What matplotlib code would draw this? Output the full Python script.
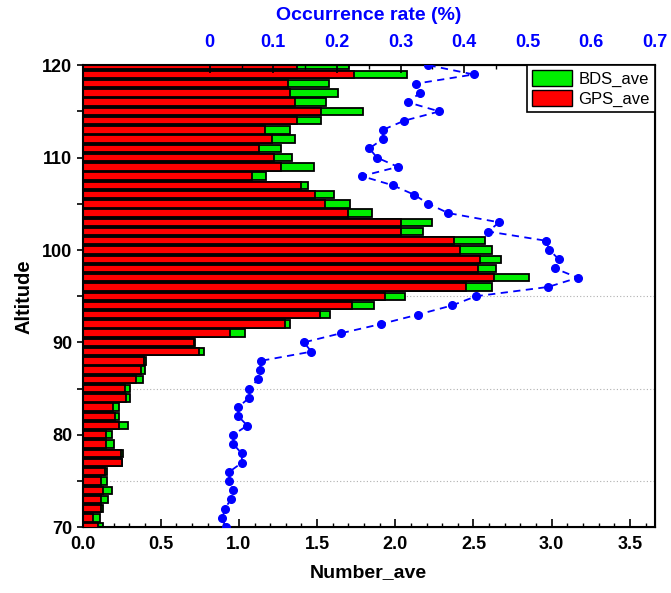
import matplotlib
matplotlib.use("Agg")
import matplotlib.pyplot as plt
import matplotlib.ticker as mticker
from matplotlib.patches import Patch

plt.rcParams["font.family"] = ["Liberation Sans", "DejaVu Sans"]
plt.rcParams["font.weight"] = "bold"

# --- Data, altitude 120 km down to 70 km ---
altitude = list(range(120, 69, -1))

gps_ave = [1.374, 1.734, 1.313, 1.324, 1.361, 1.527, 1.374, 1.164, 1.214, 1.128,
           1.224, 1.271, 1.086, 1.399, 1.489, 1.548, 1.697, 2.039, 2.039, 2.376,
           2.412, 2.540, 2.529, 2.632, 2.449, 1.932, 1.723, 1.516, 1.292, 0.945,
           0.710, 0.744, 0.392, 0.371, 0.339, 0.269, 0.280, 0.198, 0.209, 0.232,
           0.152, 0.152, 0.248, 0.254, 0.141, 0.120, 0.130, 0.120, 0.120, 0.066,
           0.098]

bds_ave = [1.702, 2.073, 1.574, 1.631, 1.555, 1.791, 1.527, 1.324, 1.361, 1.271,
           1.342, 1.480, 1.175, 1.441, 1.606, 1.708, 1.851, 2.235, 2.177, 2.572,
           2.619, 2.679, 2.647, 2.853, 2.621, 2.060, 1.862, 1.580, 1.324, 1.036,
           0.721, 0.776, 0.408, 0.397, 0.386, 0.301, 0.301, 0.232, 0.230, 0.290,
           0.187, 0.200, 0.258, 0.254, 0.155, 0.155, 0.187, 0.162, 0.130, 0.109,
           0.130]

occurrence_rate = [0.344, 0.415, 0.324, 0.331, 0.311, 0.361, 0.306, 0.272, 0.272, 0.251,
                   0.263, 0.296, 0.239, 0.288, 0.321, 0.344, 0.375, 0.455, 0.438, 0.529,
                   0.534, 0.549, 0.543, 0.579, 0.532, 0.419, 0.381, 0.327, 0.270, 0.207,
                   0.148, 0.160, 0.080, 0.079, 0.076, 0.062, 0.062, 0.045, 0.045, 0.059,
                   0.037, 0.037, 0.050, 0.051, 0.031, 0.031, 0.037, 0.033, 0.024, 0.020,
                   0.025]

fig, ax = plt.subplots(figsize=(6.71, 5.93), dpi=100)
fig.subplots_adjust(left=0.123, right=0.976, bottom=0.111, top=0.890)

# dotted guide lines
for yy in [75, 85, 95]:
    ax.axhline(yy, color="#b0b0b0", linestyle=(0, (1, 2)), linewidth=0.8, zorder=0)

ax.barh(altitude, bds_ave, height=0.8, color="#00ee00", edgecolor="black",
        linewidth=1.3, zorder=2)
ax.barh(altitude, gps_ave, height=0.8, color="#ff0000", edgecolor="black",
        linewidth=1.3, zorder=3)

ax.set_xlim(0, 3.66)
ax.set_ylim(70, 120)
ax.xaxis.set_major_locator(mticker.MultipleLocator(0.5))
ax.xaxis.set_minor_locator(mticker.MultipleLocator(0.1))
ax.xaxis.set_major_formatter(mticker.FormatStrFormatter("%.1f"))
ax.yaxis.set_major_locator(mticker.MultipleLocator(10))
ax.yaxis.set_minor_locator(mticker.MultipleLocator(5))
ax.tick_params(axis="x", which="major", direction="in", length=6, width=1.2,
               labelsize=13, pad=6)
ax.tick_params(axis="x", which="minor", direction="in", length=3, width=1.0)
ax.tick_params(axis="y", which="both", direction="inout", length=8, width=1.2,
               labelsize=13)
for s in ax.spines.values():
    s.set_linewidth(1.5)

ax.set_xlabel("Number_ave", fontsize=14, fontweight="bold", labelpad=8)
ax.set_ylabel("Altitude", fontsize=14.5, fontweight="bold", labelpad=6)

# top axis: occurrence rate
ax2 = ax.twiny()
ax2.plot(occurrence_rate, altitude, color="#0000ff", linestyle=(0, (4, 3)),
         linewidth=1.3, marker="o", markersize=5.5, zorder=5, clip_on=True)
ax2.set_xlim(-0.2, 0.7)
ax2.xaxis.set_major_locator(mticker.FixedLocator([0, 0.1, 0.2, 0.3, 0.4, 0.5, 0.6, 0.7]))
ax2.xaxis.set_minor_locator(mticker.FixedLocator([0.05, 0.15, 0.25, 0.35, 0.45, 0.55, 0.65]))
ax2.xaxis.set_major_formatter(mticker.FuncFormatter(lambda v, _: "0" if abs(v) < 1e-9 else f"{v:.1f}"))
ax2.tick_params(axis="x", which="major", direction="in", length=6, width=1.2,
                labelsize=13, labelcolor="#0000ff", pad=10)
ax2.tick_params(axis="x", which="minor", direction="in", length=3, width=1.0)
ax2.set_xlabel("Occurrence rate (%)", fontsize=14, fontweight="bold",
               color="#0000ff", labelpad=10)

handles = [Patch(facecolor="#00ee00", edgecolor="black", label="BDS_ave"),
           Patch(facecolor="#ff0000", edgecolor="black", label="GPS_ave")]
leg = ax2.legend(handles=handles, loc="upper right", borderaxespad=0.0,
                 fancybox=False, framealpha=1, edgecolor="black",
                 prop={"size": 12, "weight": "normal"},
                 handlelength=2.4, handleheight=1.1, handletextpad=0.4,
                 labelspacing=0.2, borderpad=0.3)
leg.get_frame().set_linewidth(1.2)
leg.set_zorder(10)

fig.savefig("out.png", dpi=100)
